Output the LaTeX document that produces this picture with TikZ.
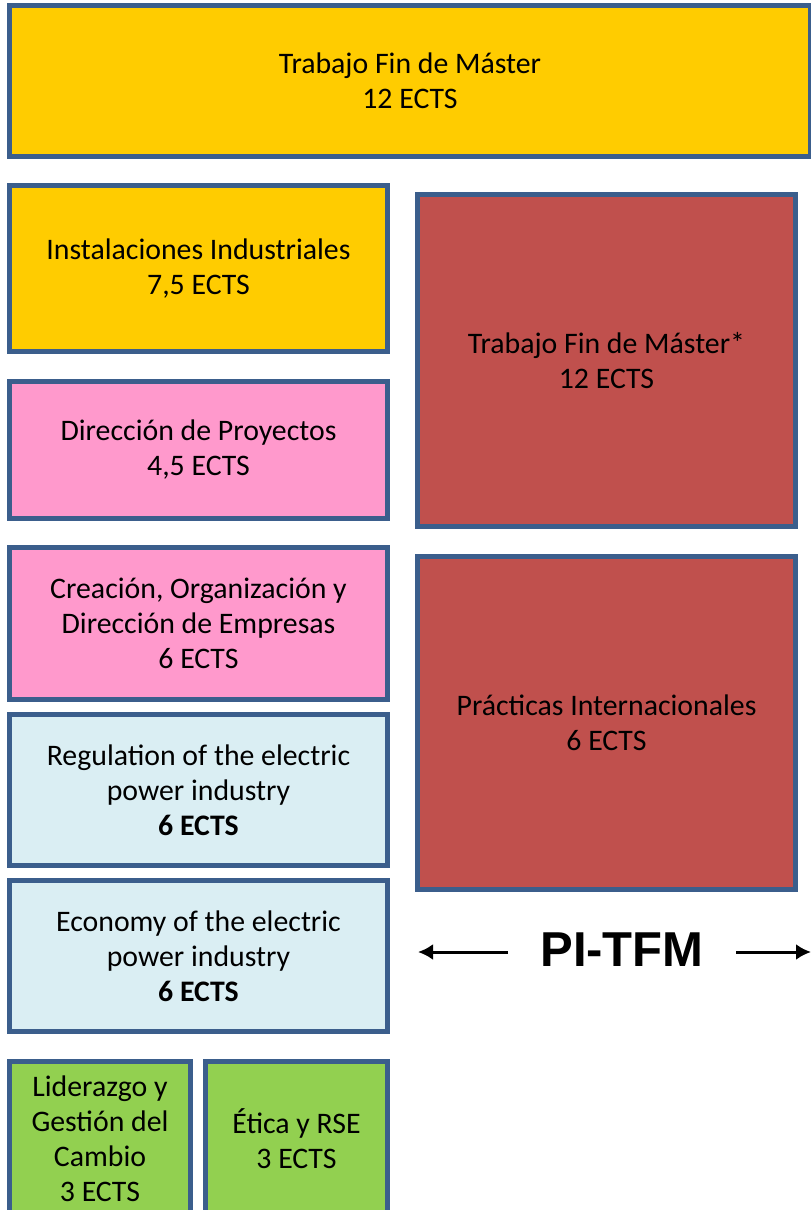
\documentclass[tikz,border=0pt]{standalone}
\usepackage{fontspec}
\setmainfont{Carlito}
\newfontfamily\arialfont{Liberation Sans}
\usetikzlibrary{arrows.meta}
\definecolor{bordblue}{HTML}{3B5E8C}
\definecolor{ylw}{HTML}{FFCC00}
\definecolor{pnk}{HTML}{FF99CC}
\definecolor{lblue}{HTML}{DAEEF3}
\definecolor{redbox}{HTML}{C0504D}
\definecolor{grn}{HTML}{92D050}
\tikzset{
  course/.style={draw=bordblue, line width=5pt, inner sep=0pt, align=center,
    font=\fontsize{29.8}{35}\selectfont, text=black},
  pitext/.style={font=\arialfont\bfseries\fontsize{49}{55}\selectfont, inner sep=0pt},
  pArrow/.style={line width=3pt, -{Latex[length=15pt,width=16pt]}}
}
\begin{document}
\begin{tikzpicture}[x=1pt,y=-1pt]
\useasboundingbox (0,0) rectangle (811,1210);
\clip (0,0) rectangle (811,1210);
\node[course, fill=ylw, minimum width=801pt, minimum height=151pt] (tfm) at (410,80.5) {Trabajo Fin de Máster\\12 ECTS};
\node[course, fill=ylw, minimum width=378pt, minimum height=166pt] (inst) at (198.5,268.5) {Instalaciones Industriales\\7,5 ECTS};
\node[course, fill=pnk, minimum width=378pt, minimum height=137pt] (dirp) at (198.5,450) {Dirección de Proyectos\\4,5 ECTS};
\node[course, fill=pnk, minimum width=378pt, minimum height=152pt] (crea) at (198.5,623.5) {Creación, Organización y\\Dirección de Empresas\\6 ECTS};
\node[course, fill=lblue, minimum width=378pt, minimum height=151pt] (reg) at (198.5,790) {Regulation of the electric\\power industry\\\textbf{6 ECTS}};
\node[course, fill=lblue, minimum width=378pt, minimum height=151pt] (eco) at (198.5,956) {Economy of the electric\\power industry\\\textbf{6 ECTS}};
\node[course, fill=grn, minimum width=181pt, minimum height=154pt] (lid) at (100,1138.5) {Liderazgo y\\Gestión del\\Cambio\\3 ECTS};
\node[course, fill=grn, minimum width=182pt, minimum height=154pt] (etica) at (296.5,1138.5) {Ética y RSE\\3 ECTS};
\node[course, fill=redbox, minimum width=378pt, minimum height=332pt] (tfms) at (606.5,360.5) {Trabajo Fin de Máster*\\12 ECTS};
\node[course, fill=redbox, minimum width=378pt, minimum height=333pt] (prac) at (606.5,723) {Prácticas Internacionales\\6 ECTS};
\node[pitext, anchor=base] (pi) at (622,966.7) {PI-TFM};
\coordinate (la) at (508,952);
\coordinate (lb) at (418,952);
\coordinate (ra) at (736,952);
\coordinate (rb) at (811,952);
\draw[pArrow] (la) -- (lb);
\draw[pArrow] (ra) -- (rb);
\end{tikzpicture}
\end{document}
